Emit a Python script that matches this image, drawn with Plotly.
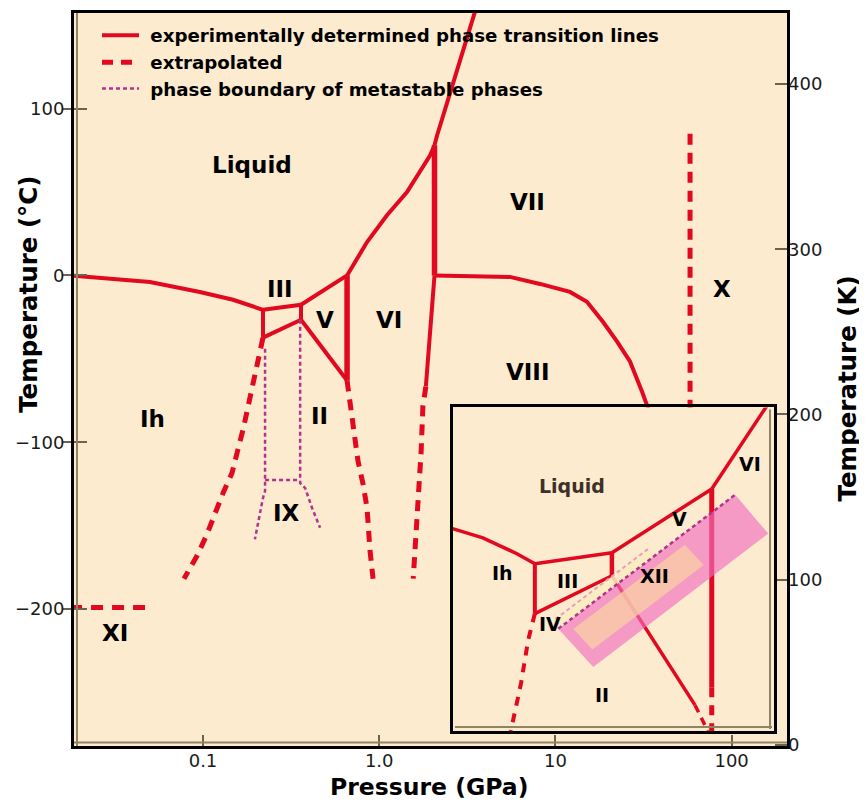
import math
import plotly.graph_objects as go

# ---------------- main diagram: pressure (GPa) vs temperature (°C) ----------------
# experimentally determined phase transition lines
ih_liq_p = [0.0176, 0.050, 0.096, 0.148, 0.219]
ih_liq_t = [0, -3.9, -9.9, -14.6, -20.6]
iii_liq_p = [0.219, 0.36]
iii_liq_t = [-20.6, -17.6]
ih_iii_p = [0.219, 0.219]
ih_iii_t = [-20.6, -37.3]
ii_iii_p = [0.219, 0.36]
ii_iii_t = [-37.3, -26.6]
iii_v_p = [0.36, 0.36]
iii_v_t = [-17.6, -26.6]
v_liq_p = [0.36, 0.657]
v_liq_t = [-17.6, 0]
ii_v_p = [0.36, 0.657]
ii_v_t = [-26.6, -63]
v_vi_p = [0.657, 0.657]
v_vi_t = [0, -63]
vi_liq_p = [0.657, 0.853, 1.107, 1.438, 1.942, 2.06]
vi_liq_t = [0, 20, 36.1, 49.9, 71.9, 78]
vii_liq_p = [2.06, 2.13, 2.43, 2.77, 3.15, 3.50, 3.65]
vii_liq_t = [78, 83.9, 103.6, 123.3, 143.6, 158.5, 164.5]
vi_vii_p = [2.06, 2.06]
vi_vii_t = [78, 0]
vi_viii_p = [2.06, 1.94, 1.84]
vi_viii_t = [0, -33.7, -66.6]
vii_viii_p = [2.06, 5.52, 8.18, 12.1, 15.1, 18.6, 22.4, 26.5, 31.0, 34.4]
vii_viii_t = [0, -0.9, -5.1, -9.9, -15.8, -27.8, -39.7, -51.6, -69.6, -82.7]

# extrapolated lines
ih_ii_p = [0.219, 0.205, 0.192, 0.180, 0.169, 0.158, 0.146, 0.130, 0.117, 0.105, 0.0925, 0.078]
ih_ii_t = [-37.3, -51.6, -66.6, -78.5, -92.2, -104.2, -118.5, -130.4, -143.6, -155.5, -168.1, -181.8]
ii_vi_p = [0.657, 0.682, 0.710, 0.758, 0.810, 0.853, 0.887, 0.923]
ii_vi_t = [-63, -75.5, -88.7, -111.3, -125.1, -139.4, -165.1, -181.8]
viii_vi_p = [1.84, 1.77, 1.73, 1.66, 1.62, 1.56]
viii_vi_t = [-66.6, -78.5, -105.4, -138.2, -162.1, -181.8]
vii_x_p = [58.1, 58.1]
vii_x_t = [85, -90]
xi_p = [0.0176, 0.0522]
xi_t = [-199.1, -199.1]

# metastable phase boundaries (ice IX)
ix_left_p = [0.225, 0.225, 0.219, 0.210, 0.197]
ix_left_t = [-43.9, -129.3, -133.4, -143.0, -158.2]
ix_top_p = [0.225, 0.356]
ix_top_t = [-122.7, -122.7]
ix_right_p = [0.356, 0.356, 0.380, 0.416, 0.462]
ix_right_t = [-26.6, -124.5, -127.5, -139.4, -151.3]

# phase labels (main)
lab_text = ["Liquid", "III", "V", "VI", "VII", "VIII", "X", "Ih", "II", "IX", "XI"]
lab_p = [0.19, 0.2735, 0.4924, 1.137, 6.90, 6.90, 88.2, 0.052, 0.461, 0.2997, 0.0317]
lab_t = [66, -8.1, -26.6, -26.6, 43.9, -57.6, -8.1, -86.3, -84.5, -142.4, -214.6]

# axis ticks
x_tickvals = [0.1, 1, 10, 100]
x_ticktext = ["0.1", "1.0", "10", "100"]
c_tickvals = [-200, -100, 0, 100]
k_tickvals = [0, 100, 200, 300, 400]

# legend names
leg_names = ["experimentally determined phase transition lines",
             "extrapolated",
             "phase boundary of metastable phases"]

# ---------------- inset (schematic low-temperature region, relative units) ----------------
in_liq_ih_u = [-1, 9.3, 19.9, 25.5]
in_liq_ih_v = [62.8, 59.7, 54.8, 51.7]
in_liq_iii_u = [25.5, 49.5]
in_liq_iii_v = [51.7, 55.1]
in_ih_iii_u = [25.5, 25.5]
in_ih_iii_v = [51.7, 36.3]
in_iii_low_u = [25.5, 49.5]
in_iii_low_v = [36.3, 48]
in_iii_v_u = [49.5, 49.5]
in_iii_v_v = [55.1, 48]
in_liq_v_u = [49.5, 80.6]
in_liq_v_v = [55.1, 74.8]
in_v_vi_u = [80.6, 80.6]
in_v_vi_v = [74.8, 13.5]
in_v_vi_ext_u = [80.6, 80.6]
in_v_vi_ext_v = [13.5, 0]
in_liq_vi_u = [80.6, 96.2, 98.8]
in_liq_vi_v = [74.8, 98.2, 102]
in_ii_v_u = [49.5, 75.4]
in_ii_v_v = [48, 8]
in_ii_v_ext_u = [75.4, 79.4]
in_ii_v_ext_v = [8, 0]
in_ih_ii_u = [25.5, 23.4, 21.2, 18.0]
in_ih_ii_v = [36.3, 28, 14.8, 0]
xii_outer_u = [32.8, 43.7, 98.2, 87.9, 32.8]
xii_outer_v = [31.6, 19.8, 61.0, 73.0, 31.6]
xii_inner_u = [37.5, 43.4, 78.1, 72.2, 37.5]
xii_inner_v = [31.5, 25.2, 51.3, 57.6, 31.5]
xii_cream_u = [33.9, 63.1, 61.1, 31.9, 33.9]
xii_cream_v = [32.4, 54.4, 56.5, 34.6, 32.4]
xii_edge_u = [32.8, 87.9]
xii_edge_v = [31.6, 73.0]
xii_edge2_u = [31.9, 61.1]
xii_edge2_v = [34.6, 56.5]
in_lab_text = ["Liquid", "Ih", "III", "IV", "V", "VI", "XII", "II"]
in_lab_u = [37.1, 15.3, 35.8, 30.2, 70.7, 92.5, 62.9, 46.4]
in_lab_v = [75.7, 48.9, 46.5, 33.2, 65.5, 82.5, 48.0, 11.1]

# ---------------- styling ----------------
RED = "#E1081F"
PURPLE = "#B3348E"
BG = "#FCEBCF"
FONT = "DejaVu Sans"
EXT_DASH = "11px,8px"
DOT = "4px,3px"

fig = go.Figure()


def line(x, y, width=4, dash="solid", color=RED, xa="x", ya="y", legend=None, name=None):
    fig.add_trace(go.Scatter(
        x=x, y=y, mode="lines", xaxis=xa, yaxis=ya,
        line=dict(color=color, width=width, dash=dash),
        showlegend=legend is not None, legend=legend if legend else "legend",
        name=name, hoverinfo="skip"))


# main solid lines
line(ih_liq_p, ih_liq_t, legend="legend", name="\u00a0" + leg_names[0])
for px_, ty_ in [(iii_liq_p, iii_liq_t), (ih_iii_p, ih_iii_t), (ii_iii_p, ii_iii_t),
                 (iii_v_p, iii_v_t), (v_liq_p, v_liq_t), (ii_v_p, ii_v_t),
                 (vi_liq_p, vi_liq_t), (vii_liq_p, vii_liq_t), (vi_viii_p, vi_viii_t),
                 (vii_viii_p, vii_viii_t)]:
    line(px_, ty_)
line(v_vi_p, v_vi_t, width=5.5)
line(vi_vii_p, vi_vii_t, width=5.5)

# extrapolated
line(ih_ii_p, ih_ii_t, width=5, dash=EXT_DASH, legend="legend2", name="\u00a0" + leg_names[1])
line(ii_vi_p, ii_vi_t, width=5, dash=EXT_DASH)
line(viii_vi_p, viii_vi_t, width=5, dash=EXT_DASH)
line(vii_x_p, vii_x_t, width=5, dash=EXT_DASH)
line(xi_p, xi_t, width=5, dash="12px,9px")

# metastable
line(ix_left_p, ix_left_t, width=2.5, dash=DOT, color=PURPLE, legend="legend3",
     name="\u00a0" + leg_names[2])
line(ix_top_p, ix_top_t, width=2.5, dash=DOT, color=PURPLE)
line(ix_right_p, ix_right_t, width=2.5, dash=DOT, color=PURPLE)

# dummy traces so the secondary axes render
fig.add_trace(go.Scatter(x=[None], y=[None], xaxis="x", yaxis="y2", showlegend=False, hoverinfo="skip"))
fig.add_trace(go.Scatter(x=[None], y=[None], xaxis="x", yaxis="y4", showlegend=False, hoverinfo="skip"))

# inset lines
I = dict(xa="x3", ya="y3")
for uu, vv in [(in_liq_ih_u, in_liq_ih_v), (in_liq_iii_u, in_liq_iii_v), (in_iii_low_u, in_iii_low_v),
               (in_liq_v_u, in_liq_v_v), (in_liq_vi_u, in_liq_vi_v), (in_ii_v_u, in_ii_v_v)]:
    line(uu, vv, width=3.5, **I)
line(in_ih_iii_u, in_ih_iii_v, width=4, **I)
line(in_iii_v_u, in_iii_v_v, width=4.5, **I)
line(in_v_vi_u, in_v_vi_v, width=5, **I)
line(in_v_vi_ext_u, in_v_vi_ext_v, width=5, dash="10px,8px", **I)
line(in_ii_v_ext_u, in_ii_v_ext_v, width=3.5, dash="8px,6px", **I)
line(in_ih_ii_u, in_ih_ii_v, width=4, dash="9px,8px", **I)


def region(u, v, color):
    fig.add_trace(go.Scatter(x=u, y=v, mode="lines", fill="toself", fillcolor=color,
                             line=dict(width=0), xaxis="x3", yaxis="y3",
                             showlegend=False, hoverinfo="skip"))


# XII region
region(xii_outer_u, xii_outer_v, "rgba(240,110,190,0.65)")
region(xii_inner_u, xii_inner_v, "rgba(250,205,165,0.78)")
region(xii_cream_u, xii_cream_v, "rgba(252,236,190,0.85)")
line(xii_edge_u, xii_edge_v, width=2.5, dash=DOT, color=PURPLE, **I)
line(xii_edge2_u, xii_edge2_v, width=2, dash=DOT, color="#E6A0B8", **I)

# ---------------- layout ----------------
# the page body adds an 8px offset, so the figure is laid out 8px smaller on the left/top
OFF = 8
W, H = 859, 799
ML, MR, MT, MB = 66, 80, 2, 61
PW, PH = W - ML - MR, H - MT - MB


def px2paper_x(px):
    return (px - OFF - ML) / PW


def px2paper_y(py):
    return (H - MB - (py - OFF)) / PH


tickfont = dict(family=FONT, size=18, color="#1a1a1a")
TICKC = "#6b6350"

annotations = []
for t, p, tt in zip(lab_text, lab_p, lab_t):
    annotations.append(dict(x=math.log10(p), y=tt, xref="x", yref="y", text=t,
                            showarrow=False,
                            font=dict(family=FONT, size=23, color="black", weight="bold"),
                            xanchor="center", yanchor="middle"))
for t, u, v in zip(in_lab_text, in_lab_u, in_lab_v):
    annotations.append(dict(x=u, y=v, xref="x3", yref="y3", text=t, showarrow=False,
                            font=dict(family=FONT, size=19,
                                      color="#3d3028" if t == "Liquid" else "black", weight="bold"),
                            xanchor="center", yanchor="middle"))

title_font = dict(family=FONT, size=23.5, color="black", weight="bold")
annotations += [
    dict(x=px2paper_x(429), y=px2paper_y(787), xref="paper", yref="paper", text="Pressure (GPa)",
         showarrow=False, font=title_font, xanchor="center", yanchor="middle"),
    dict(x=px2paper_x(29), y=px2paper_y(293), xref="paper", yref="paper", text="Temperature (°C)",
         showarrow=False, font=dict(title_font, size=24.5), xanchor="center", yanchor="middle",
         textangle=-90),
    dict(x=px2paper_x(847), y=px2paper_y(387), xref="paper", yref="paper", text="Temperature (K)",
         showarrow=False, font=dict(title_font, size=24.5), xanchor="center", yanchor="middle",
         textangle=-90),
]

leg_common = dict(xanchor="left", yanchor="middle", bgcolor="rgba(0,0,0,0)", borderwidth=0,
                  font=dict(family=FONT, size=18.2, color="black", weight="bold"), itemwidth=37)

shapes = [
    dict(type="line", xref="paper", yref="paper", x0=px2paper_x(77), x1=px2paper_x(77),
         y0=0, y1=1, line=dict(color="#8f8565", width=2), layer="above"),
    dict(type="line", xref="paper", yref="paper", x0=0, x1=1, y0=px2paper_y(742.5),
         y1=px2paper_y(742.5), line=dict(color="#8f8565", width=2), layer="above"),
    dict(type="line", xref="paper", yref="paper", x0=px2paper_x(770), x1=px2paper_x(770),
         y0=px2paper_y(729), y1=px2paper_y(408), line=dict(color="#8f8565", width=2), layer="above"),
    dict(type="line", xref="paper", yref="paper", x0=px2paper_x(455), x1=px2paper_x(772),
         y0=px2paper_y(727), y1=px2paper_y(727), line=dict(color="#8f8565", width=2), layer="above"),
]

fig.update_layout(
    width=W, height=H,
    margin=dict(l=ML, r=MR, t=MT, b=MB, pad=0),
    paper_bgcolor="white", plot_bgcolor=BG,
    showlegend=True,
    legend=dict(x=px2paper_x(97), y=px2paper_y(32.5), **leg_common),
    legend2=dict(x=px2paper_x(97), y=px2paper_y(59.5), **leg_common),
    legend3=dict(x=px2paper_x(97), y=px2paper_y(86), **leg_common),
    xaxis=dict(type="log", range=[-1.7321, 2.3144], tickvals=x_tickvals, ticktext=x_ticktext,
               ticks="inside", ticklen=11, tickwidth=2, tickcolor=TICKC, tickfont=tickfont,
               ticklabelstandoff=-4,
               showline=True, linecolor="black", linewidth=3, mirror=True,
               showgrid=False, zeroline=False),
    yaxis=dict(range=[-282.09, 157.31], tickvals=c_tickvals, ticks="outside", ticklen=9,
               tickwidth=2, tickcolor=TICKC, tickfont=tickfont, ticklabelstandoff=-6,
               showline=True, linecolor="black", linewidth=3, mirror=True,
               showgrid=False, zeroline=False),
    yaxis2=dict(range=[-0.72, 443.02], overlaying="y", side="right", tickvals=k_tickvals,
                ticks="inside", ticklen=12, tickwidth=2, tickcolor=TICKC, tickfont=tickfont,
                showline=False, showgrid=False, zeroline=False),
    yaxis4=dict(range=[-282.09, 157.31], overlaying="y", side="left", tickvals=c_tickvals,
                ticks="inside", ticklen=13, tickwidth=2, tickcolor=TICKC, showticklabels=False,
                showline=False, showgrid=False, zeroline=False),
    xaxis3=dict(domain=[px2paper_x(453), px2paper_x(774)], anchor="y3", range=[0, 100],
                showline=True, linecolor="black", linewidth=3, mirror=True, ticks="",
                showticklabels=False, showgrid=False, zeroline=False),
    yaxis3=dict(domain=[px2paper_y(731), px2paper_y(406)], anchor="x3", range=[0, 100],
                showline=True, linecolor="black", linewidth=3, mirror=True, ticks="",
                showticklabels=False, showgrid=False, zeroline=False),
    annotations=annotations,
    shapes=shapes,
)

fig.write_html("out.html")
